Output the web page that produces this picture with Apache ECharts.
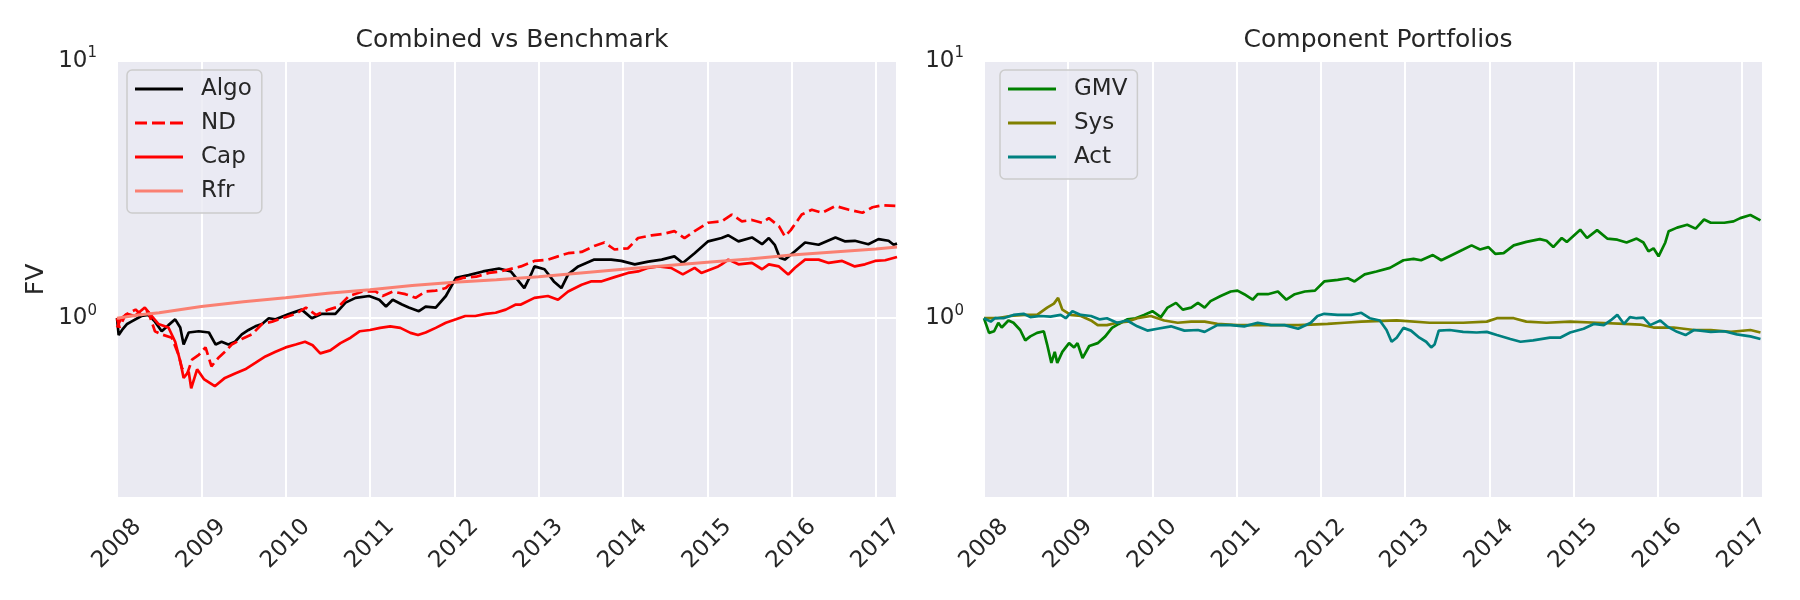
<!DOCTYPE html>
<html>
<head>
<meta charset="utf-8">
<title>Combined vs Benchmark / Component Portfolios</title>
<script src="https://cdn.jsdelivr.net/npm/echarts@6/dist/echarts.min.js"></script>
<style>
  html, body { margin: 0; padding: 0; background: #fff; }
  #chart { width: 1800px; height: 600px; }
</style>
</head>
<body>
<div id="chart"></div>
<script>
// values: [decimal year, value]
const algo = [[2008.00,1.00],[2008.02,0.86],[2008.06,0.90],[2008.12,0.95],[2008.17,0.97],[2008.29,1.02],[2008.37,1.03],[2008.45,0.97],[2008.53,0.89],[2008.61,0.94],[2008.69,0.99],[2008.75,0.92],[2008.79,0.79],[2008.85,0.88],[2008.97,0.89],[2009.09,0.88],[2009.17,0.79],[2009.24,0.81],[2009.32,0.79],[2009.40,0.81],[2009.48,0.865],[2009.56,0.90],[2009.64,0.93],[2009.72,0.95],[2009.80,1.00],[2009.88,0.99],[2010.03,1.035],[2010.19,1.08],[2010.31,1.00],[2010.43,1.04],[2010.59,1.04],[2010.71,1.15],[2010.83,1.20],[2010.99,1.22],[2011.11,1.18],[2011.19,1.11],[2011.27,1.18],[2011.38,1.13],[2011.46,1.10],[2011.58,1.065],[2011.66,1.11],[2011.78,1.10],[2011.90,1.22],[2012.02,1.435],[2012.17,1.47],[2012.34,1.52],[2012.53,1.56],[2012.67,1.52],[2012.83,1.31],[2012.91,1.48],[2012.95,1.59],[2013.07,1.55],[2013.18,1.39],[2013.27,1.31],[2013.35,1.48],[2013.47,1.59],[2013.66,1.69],[2013.86,1.69],[2013.98,1.67],[2014.14,1.62],[2014.30,1.66],[2014.46,1.69],[2014.61,1.74],[2014.71,1.64],[2014.85,1.79],[2015.01,1.99],[2015.17,2.05],[2015.25,2.10],[2015.37,1.99],[2015.53,2.06],[2015.65,1.94],[2015.73,2.05],[2015.80,1.93],[2015.86,1.72],[2015.92,1.69],[2016.04,1.82],[2016.16,1.97],[2016.32,1.93],[2016.52,2.06],[2016.63,1.99],[2016.75,2.00],[2016.91,1.94],[2017.03,2.03],[2017.15,2.00],[2017.21,1.93],[2017.25,1.95]];

const nd = [[2008.00,1.00],[2008.03,0.92],[2008.10,1.03],[2008.22,1.08],[2008.29,1.03],[2008.37,1.06],[2008.45,0.89],[2008.53,0.865],[2008.65,0.84],[2008.73,0.72],[2008.77,0.64],[2008.83,0.605],[2008.89,0.69],[2008.97,0.72],[2009.05,0.77],[2009.12,0.65],[2009.20,0.70],[2009.28,0.74],[2009.36,0.79],[2009.48,0.83],[2009.60,0.865],[2009.72,0.95],[2009.84,0.97],[2009.96,1.00],[2010.12,1.04],[2010.24,1.10],[2010.36,1.03],[2010.51,1.08],[2010.63,1.11],[2010.75,1.22],[2010.91,1.27],[2011.07,1.27],[2011.15,1.22],[2011.27,1.27],[2011.42,1.24],[2011.54,1.20],[2011.66,1.27],[2011.78,1.28],[2011.90,1.31],[2011.98,1.39],[2012.10,1.435],[2012.26,1.45],[2012.41,1.50],[2012.55,1.52],[2012.65,1.55],[2012.79,1.59],[2012.95,1.67],[2013.11,1.69],[2013.23,1.74],[2013.35,1.79],[2013.51,1.81],[2013.66,1.91],[2013.78,1.97],[2013.90,1.85],[2014.06,1.87],[2014.18,2.05],[2014.34,2.10],[2014.49,2.13],[2014.61,2.18],[2014.73,2.05],[2014.85,2.18],[2015.01,2.35],[2015.17,2.38],[2015.29,2.53],[2015.41,2.38],[2015.53,2.41],[2015.65,2.35],[2015.73,2.45],[2015.85,2.28],[2015.92,2.08],[2015.99,2.20],[2016.12,2.53],[2016.24,2.64],[2016.36,2.57],[2016.52,2.73],[2016.68,2.64],[2016.84,2.57],[2016.96,2.70],[2017.08,2.75],[2017.25,2.73]];

const cap = [[2008.00,0.92],[2008.05,1.00],[2008.12,1.04],[2008.21,1.02],[2008.33,1.10],[2008.40,1.03],[2008.49,0.95],[2008.61,0.92],[2008.69,0.81],[2008.75,0.68],[2008.79,0.586],[2008.85,0.62],[2008.88,0.534],[2008.95,0.633],[2009.03,0.58],[2009.16,0.544],[2009.28,0.586],[2009.40,0.61],[2009.52,0.633],[2009.64,0.67],[2009.76,0.71],[2009.88,0.74],[2010.00,0.77],[2010.12,0.79],[2010.23,0.81],[2010.32,0.785],[2010.41,0.73],[2010.53,0.75],[2010.65,0.80],[2010.77,0.84],[2010.88,0.89],[2011.00,0.90],[2011.12,0.917],[2011.24,0.93],[2011.36,0.917],[2011.48,0.877],[2011.57,0.86],[2011.66,0.88],[2011.78,0.917],[2011.90,0.96],[2012.02,0.99],[2012.13,1.02],[2012.25,1.02],[2012.37,1.04],[2012.49,1.05],[2012.61,1.08],[2012.73,1.13],[2012.79,1.13],[2012.95,1.20],[2013.11,1.22],[2013.23,1.18],[2013.35,1.27],[2013.51,1.35],[2013.62,1.39],[2013.74,1.39],[2013.90,1.445],[2014.06,1.50],[2014.18,1.52],[2014.30,1.57],[2014.42,1.59],[2014.57,1.57],[2014.71,1.48],[2014.85,1.57],[2014.93,1.50],[2015.13,1.59],[2015.17,1.62],[2015.25,1.69],[2015.37,1.62],[2015.53,1.64],[2015.65,1.55],[2015.73,1.62],[2015.85,1.59],[2015.96,1.48],[2016.04,1.57],[2016.16,1.69],[2016.32,1.69],[2016.44,1.64],[2016.60,1.67],[2016.75,1.59],[2016.87,1.62],[2016.99,1.67],[2017.11,1.68],[2017.25,1.73]];

const rfr = [[2008.00,1.00],[2008.25,1.03],[2008.50,1.05],[2009.00,1.11],[2009.50,1.16],[2010.00,1.20],[2010.50,1.25],[2011.00,1.29],[2011.50,1.34],[2012.00,1.38],[2012.50,1.41],[2013.00,1.45],[2013.50,1.50],[2014.00,1.55],[2014.50,1.60],[2015.00,1.65],[2015.50,1.70],[2016.00,1.76],[2016.50,1.81],[2017.00,1.86],[2017.25,1.89]];

const gmv = [[2008.00,1.00],[2008.06,0.877],[2008.12,0.89],[2008.17,0.96],[2008.21,0.92],[2008.29,0.98],[2008.35,0.96],[2008.43,0.90],[2008.49,0.82],[2008.55,0.85],[2008.63,0.877],[2008.71,0.89],[2008.75,0.79],[2008.80,0.67],[2008.84,0.74],[2008.87,0.67],[2008.93,0.74],[2009.01,0.80],[2009.07,0.77],[2009.11,0.80],[2009.17,0.70],[2009.25,0.78],[2009.35,0.80],[2009.44,0.85],[2009.52,0.917],[2009.60,0.95],[2009.70,0.99],[2009.80,1.00],[2009.90,1.03],[2010.00,1.065],[2010.10,1.01],[2010.18,1.10],[2010.28,1.147],[2010.36,1.08],[2010.46,1.10],[2010.54,1.147],[2010.62,1.10],[2010.69,1.165],[2010.81,1.22],[2010.93,1.27],[2011.01,1.28],[2011.09,1.24],[2011.19,1.18],[2011.25,1.24],[2011.37,1.24],[2011.49,1.27],[2011.59,1.18],[2011.69,1.24],[2011.81,1.27],[2011.93,1.28],[2012.04,1.39],[2012.20,1.41],[2012.32,1.43],[2012.40,1.39],[2012.52,1.48],[2012.66,1.52],[2012.82,1.57],[2012.98,1.68],[2013.10,1.70],[2013.19,1.68],[2013.33,1.76],[2013.43,1.68],[2013.57,1.77],[2013.69,1.85],[2013.79,1.92],[2013.89,1.85],[2013.99,1.89],[2014.07,1.78],[2014.17,1.79],[2014.29,1.92],[2014.44,1.98],[2014.60,2.03],[2014.68,2.00],[2014.76,1.89],[2014.86,2.05],[2014.92,1.98],[2015.08,2.21],[2015.16,2.05],[2015.28,2.20],[2015.40,2.04],[2015.52,2.02],[2015.63,1.97],[2015.75,2.04],[2015.83,1.97],[2015.89,1.82],[2015.95,1.87],[2016.01,1.74],[2016.09,1.97],[2016.13,2.18],[2016.23,2.25],[2016.35,2.31],[2016.45,2.23],[2016.55,2.42],[2016.63,2.35],[2016.79,2.35],[2016.90,2.38],[2016.98,2.45],[2017.10,2.52],[2017.22,2.40]];

const sys = [[2008.00,1.00],[2008.15,1.00],[2008.31,1.02],[2008.47,1.03],[2008.63,1.03],[2008.75,1.10],[2008.83,1.14],[2008.88,1.20],[2008.93,1.08],[2009.03,1.03],[2009.15,1.02],[2009.27,0.98],[2009.35,0.94],[2009.46,0.94],[2009.58,0.96],[2009.70,0.97],[2009.82,1.00],[2009.98,1.02],[2010.14,0.98],[2010.30,0.96],[2010.46,0.97],[2010.62,0.97],[2010.77,0.95],[2011.01,0.94],[2011.25,0.94],[2011.49,0.94],[2011.73,0.94],[2011.88,0.945],[2012.08,0.95],[2012.28,0.96],[2012.48,0.97],[2012.90,0.98],[2013.29,0.96],[2013.69,0.96],[2013.97,0.97],[2014.09,1.00],[2014.29,1.00],[2014.44,0.97],[2014.68,0.96],[2014.96,0.97],[2015.28,0.96],[2015.60,0.95],[2015.79,0.945],[2015.95,0.92],[2016.19,0.92],[2016.43,0.90],[2016.63,0.90],[2016.87,0.885],[2017.10,0.90],[2017.22,0.88]];

const act = [[2008.00,1.00],[2008.08,0.97],[2008.13,1.00],[2008.23,1.00],[2008.35,1.03],[2008.47,1.04],[2008.55,1.01],[2008.67,1.02],[2008.79,1.015],[2008.91,1.03],[2008.97,1.00],[2009.05,1.065],[2009.15,1.03],[2009.27,1.02],[2009.37,0.99],[2009.46,1.00],[2009.58,0.96],[2009.70,0.98],[2009.82,0.93],[2009.94,0.895],[2010.06,0.91],[2010.22,0.93],[2010.38,0.895],[2010.54,0.90],[2010.62,0.885],[2010.77,0.94],[2010.93,0.94],[2011.09,0.93],[2011.25,0.96],[2011.41,0.94],[2011.57,0.94],[2011.73,0.91],[2011.88,0.96],[2011.96,1.02],[2012.04,1.04],[2012.20,1.03],[2012.36,1.03],[2012.48,1.05],[2012.58,1.00],[2012.70,0.98],[2012.78,0.90],[2012.84,0.81],[2012.90,0.84],[2012.98,0.917],[2013.07,0.895],[2013.17,0.84],[2013.25,0.81],[2013.31,0.77],[2013.35,0.79],[2013.40,0.895],[2013.53,0.90],[2013.69,0.885],[2013.85,0.88],[2013.97,0.885],[2014.09,0.86],[2014.25,0.83],[2014.37,0.81],[2014.52,0.82],[2014.72,0.84],[2014.84,0.84],[2014.96,0.88],[2015.12,0.91],[2015.24,0.95],[2015.36,0.94],[2015.44,0.98],[2015.52,1.03],[2015.60,0.95],[2015.67,1.01],[2015.75,1.00],[2015.83,1.005],[2015.91,0.94],[2016.03,0.98],[2016.11,0.93],[2016.23,0.885],[2016.33,0.86],[2016.43,0.90],[2016.63,0.885],[2016.79,0.89],[2016.94,0.865],[2017.10,0.85],[2017.22,0.83]];

const xMin = 2008, xMax = 2017.25;
const yMin = 0.2, yMax = 10;

const FONT = '"DejaVu Sans", sans-serif';
const TXT = '#262626';
const BG = '#EAEAF2';

// legend glyphs: a plain stroke, and the same stroke broken into dashes
const SOLID_ICON = 'path://M0,0h48v3h-48z';
const DASH_ICON = 'path://M0,0h12v3h-12z M17,0h13v3h-13z M35,0h13v3h-13z';

function yearLabel(v) {
  return Number.isInteger(v) ? String(v) : '';
}

function powLabel(v) {
  const e = Math.log10(v);
  const r = Math.round(e);
  if (Math.abs(e - r) > 1e-6) return '';
  return '{b|10}{s|' + r + '}';
}

function xAxisFor(idx) {
  return {
    type: 'value', gridIndex: idx, min: xMin, max: xMax, interval: 1,
    axisLine: { show: false }, axisTick: { show: false },
    splitLine: { show: true, lineStyle: { color: '#fff', width: 2 } },
    axisLabel: {
      formatter: yearLabel, rotate: 45, align: 'center', verticalAlign: 'middle',
      margin: 46, fontSize: 23, color: TXT, fontFamily: FONT
    }
  };
}

function yAxisFor(idx, name) {
  return {
    type: 'log', logBase: 10, gridIndex: idx, min: yMin, max: yMax,
    name: name, nameLocation: 'middle', nameGap: 68, nameRotate: 90,
    nameTextStyle: { fontSize: 25, color: TXT, fontFamily: FONT },
    axisLine: { show: false }, axisTick: { show: false },
    splitLine: { show: true, lineStyle: { color: '#fff', width: 2 } },
    axisLabel: {
      formatter: powLabel, margin: 20, color: TXT, fontFamily: FONT,
      rich: {
        b: { fontSize: 23, lineHeight: 30, color: TXT, fontFamily: FONT, verticalAlign: 'middle' },
        s: { fontSize: 15, lineHeight: 15, color: TXT, fontFamily: FONT, verticalAlign: 'top' }
      }
    }
  };
}

function line(name, data, color, idx, dashed, width) {
  return {
    name: name, type: 'line', data: data, xAxisIndex: idx, yAxisIndex: idx,
    symbol: 'none', smooth: false, clip: true,
    lineStyle: { color: color, width: width || 2.7, type: dashed ? [11, 5] : 'solid' },
    itemStyle: { color: color },
    emphasis: { disabled: true }
  };
}

function legendFor(items, left) {
  return {
    orient: 'vertical', left: left, top: 70,
    data: items.map(function (it) { return { name: it[0], icon: it[1] ? DASH_ICON : SOLID_ICON }; }),
    itemWidth: 48, itemHeight: 3, itemGap: 10,
    padding: [7, 10, 10, 8],
    backgroundColor: 'rgba(234,234,242,0.8)', borderColor: '#CCCCCC', borderWidth: 1.5, borderRadius: 5,
    textStyle: { fontSize: 23, lineHeight: 24, color: TXT, fontFamily: FONT, padding: [0, 0, 0, 13] }
  };
}

const chart = echarts.init(document.getElementById('chart'), null, { renderer: 'canvas' });

chart.setOption({
  backgroundColor: '#fff',
  animation: false,
  title: [
    { text: 'Combined vs Benchmark', left: 507, top: 23, textAlign: 'center',
      textStyle: { fontSize: 25, fontWeight: 'normal', color: TXT, fontFamily: FONT } },
    { text: 'Component Portfolios', left: 1373, top: 23, textAlign: 'center',
      textStyle: { fontSize: 25, fontWeight: 'normal', color: TXT, fontFamily: FONT } }
  ],
  legend: [
    legendFor([['Algo'], ['ND', true], ['Cap'], ['Rfr']], 127),
    legendFor([['GMV'], ['Sys'], ['Act']], 1000)
  ],
  grid: [
    { left: 117, top: 61, width: 780, height: 437, show: true, backgroundColor: BG, borderWidth: 0 },
    { left: 984, top: 61, width: 779, height: 437, show: true, backgroundColor: BG, borderWidth: 0 }
  ],
  xAxis: [xAxisFor(0), xAxisFor(1)],
  yAxis: [yAxisFor(0, 'FV'), yAxisFor(1, '')],
  series: [
    line('Algo', algo, '#000000', 0),
    line('ND', nd, '#FF0000', 0, true),
    line('Cap', cap, '#FF0000', 0),
    line('Rfr', rfr, '#FA8072', 0, false, 3),
    line('GMV', gmv, '#008000', 1),
    line('Sys', sys, '#808000', 1),
    line('Act', act, '#008080', 1)
  ]
});
</script>
</body>
</html>
